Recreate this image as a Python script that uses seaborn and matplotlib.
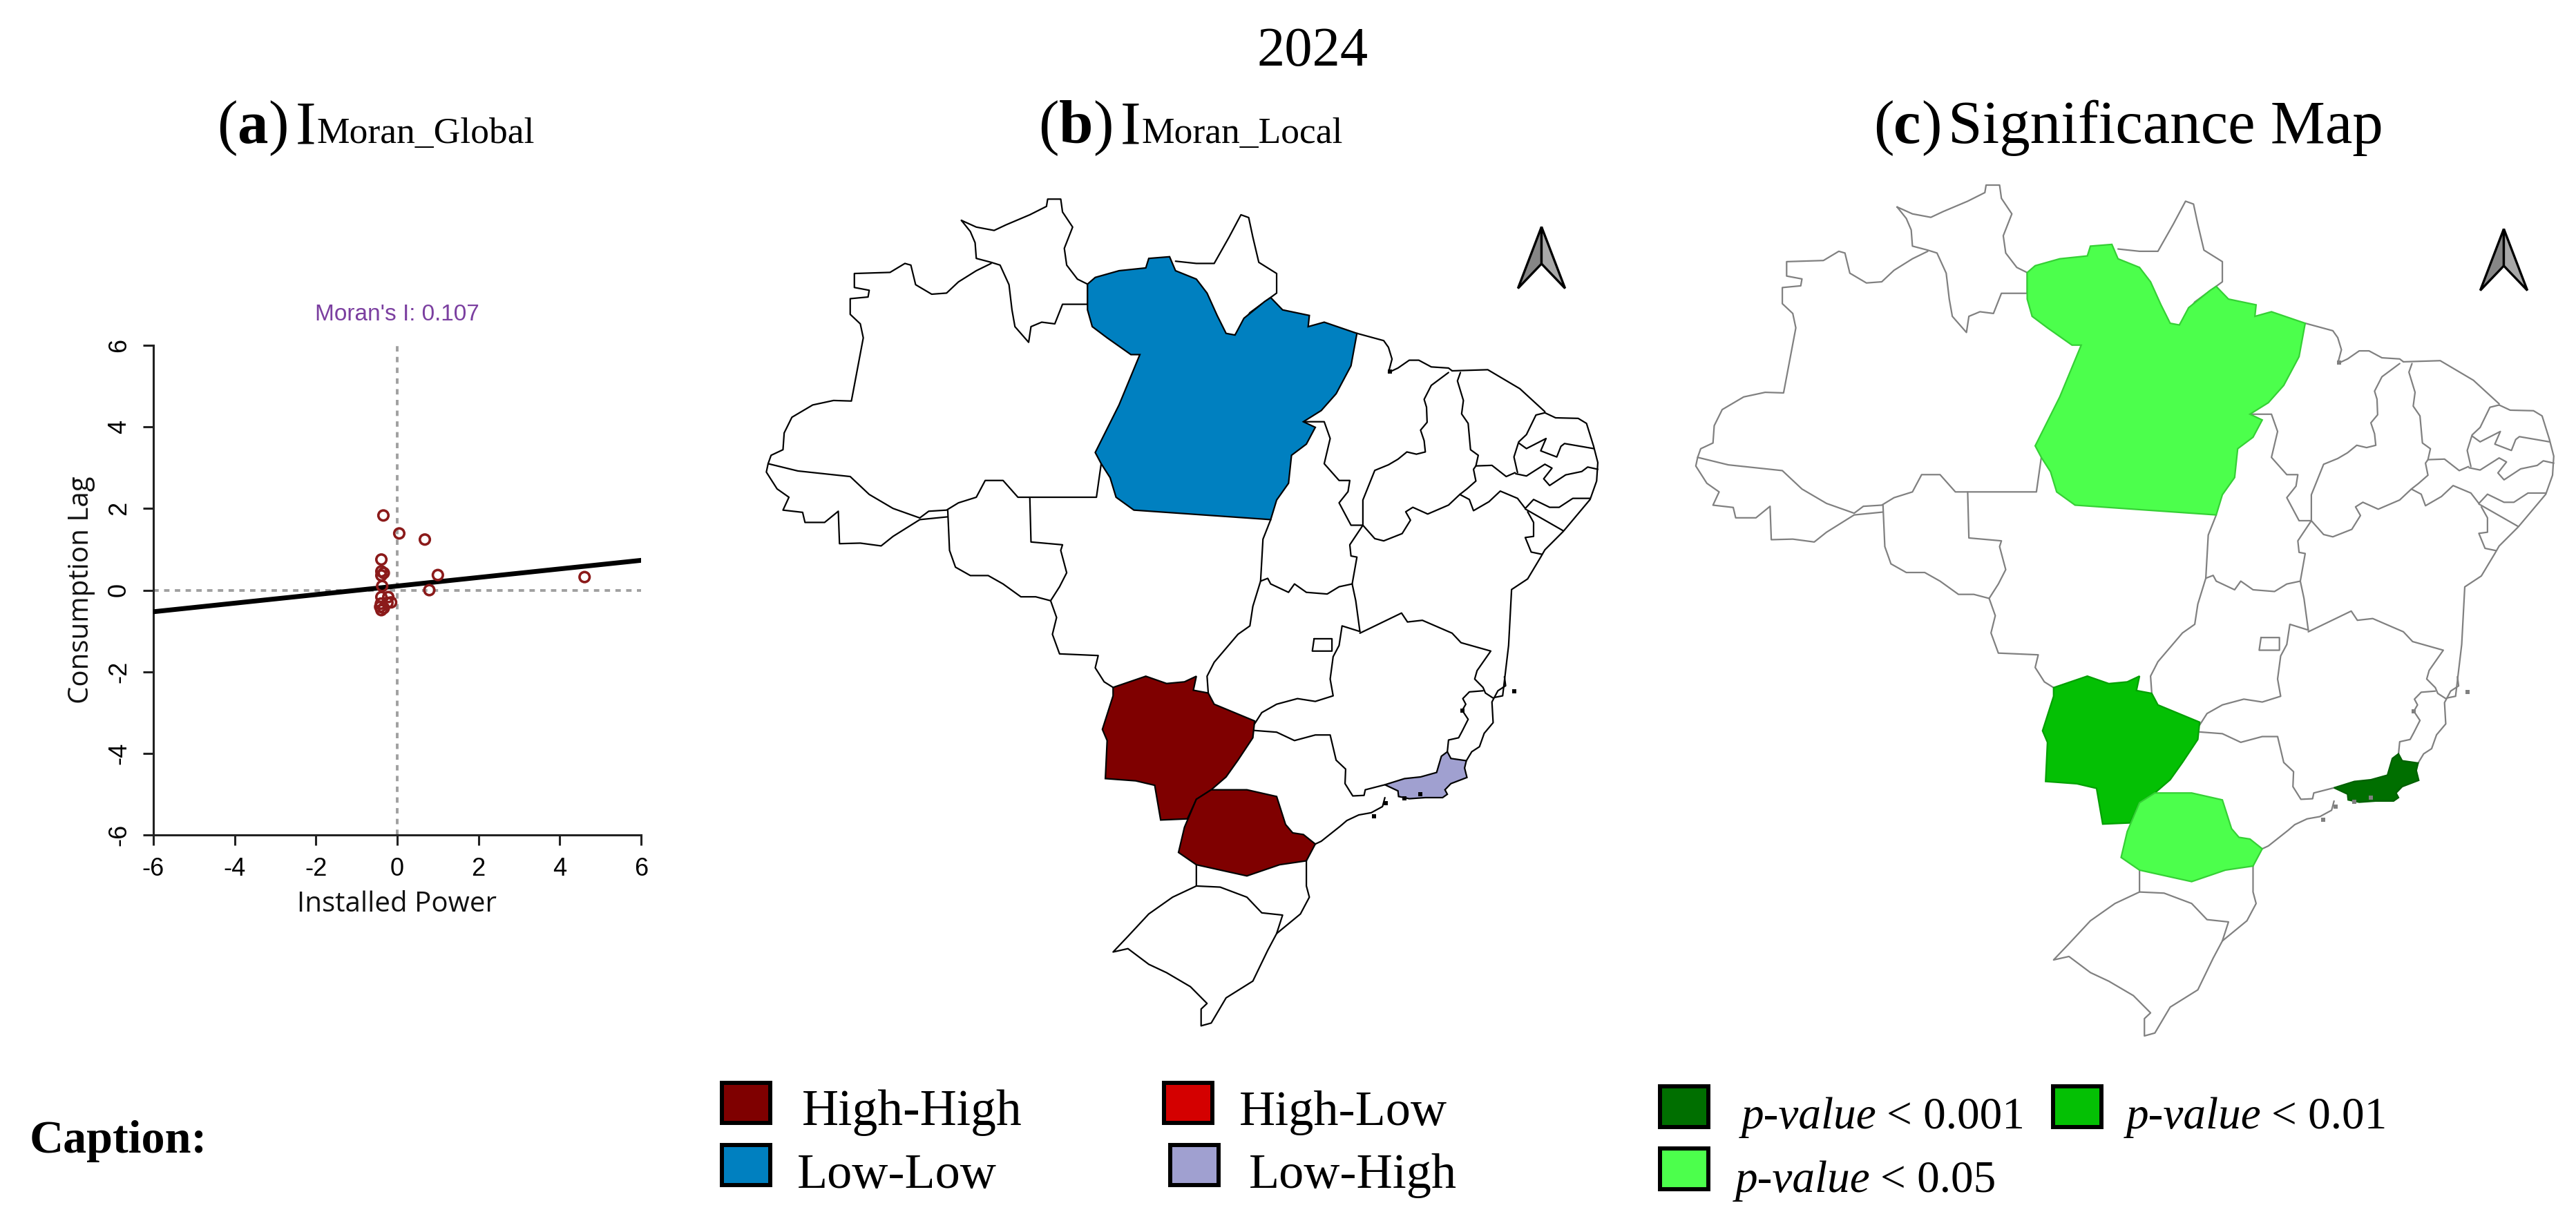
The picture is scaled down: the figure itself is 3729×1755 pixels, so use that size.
import matplotlib
matplotlib.use('Agg')
import matplotlib.pyplot as plt
import seaborn as sns
from matplotlib.patches import Polygon, Rectangle

# Moran scatter
power = [-0.34, 0.05, 0.68, -0.39, -0.39, -0.33, -0.39, 1.00, 4.61, 0.79, -0.37,
         -0.39, -0.22, -0.24, -0.40, -0.39, -0.42, -0.33, -0.15]
lag = [1.83, 1.39, 1.24, 0.75, 0.46, 0.42, 0.36, 0.37, 0.32, 0.00, 0.10,
       -0.17, -0.17, -0.31, -0.33, -0.49, -0.41, -0.44, -0.30]
fit_x = [-6, 6]
fit_y = [-0.53, 0.73]
ticks = [-6, -4, -2, 0, 2, 4, 6]

para = [(667, 224), (680, 212), (720, 200), (765, 195), (770, 178), (805, 175), (815, 200), (850, 215), (868, 240),
        (885, 280), (900, 312), (915, 315), (930, 285), (965, 255), (975, 248), (995, 270), (1040, 280), (1038, 300),
        (1065, 292), (1120, 312), (1110, 370), (1085, 420), (1060, 450), (1030, 470), (1050, 480), (1035, 510),
        (1010, 530), (1005, 580), (985, 610), (975, 645), (745, 628), (715, 605), (705, 570), (690, 545), (680, 525),
        (720, 440), (755, 350), (740, 350), (700, 320), (675, 300), (667, 270)]
mato_grosso_sul = [(710, 945), (765, 925), (800, 938), (830, 935), (850, 925), (845, 950), (870, 955), (880, 975),
                   (948, 1005), (945, 1035), (920, 1075), (900, 1105), (875, 1128), (850, 1145), (835, 1180),
                   (790, 1182), (780, 1120), (748, 1112), (697, 1108), (700, 1040), (692, 1020), (710, 960)]
parana = [(875, 1128), (935, 1128), (985, 1140), (1000, 1190), (1012, 1205), (1030, 1208), (1050, 1225), (1035, 1255),
          (990, 1262), (935, 1282), (905, 1275), (850, 1262), (820, 1240), (830, 1195), (850, 1145)]
rio = [(1272, 1060), (1278, 1072), (1304, 1076), (1301, 1089), (1305, 1106), (1278, 1117), (1268, 1128), (1272, 1136),
       (1264, 1142), (1235, 1142), (1208, 1144), (1190, 1140), (1189, 1130), (1167, 1119), (1200, 1108), (1227, 1105),
       (1254, 1097), (1262, 1068)]

borders = [
    # Roraima
    [(455, 110), (480, 122), (510, 128), (530, 118), (570, 100), (598, 85), (600, 72), (622, 72), (625, 95), (642, 122),
     (628, 160), (632, 190), (650, 215), (667, 224), (667, 260), (625, 260), (612, 295), (590, 292), (572, 300),
     (568, 328), (545, 300), (540, 270), (535, 225), (520, 190), (505, 185), (480, 178), (478, 150), (470, 130),
     (455, 110)],
    # Amazonas
    [(505, 187), (480, 200), (450, 220), (430, 240), (405, 242), (378, 225), (370, 190), (360, 187), (335, 203),
     (275, 205), (275, 230), (300, 235), (298, 247), (268, 250), (268, 278), (285, 295), (290, 320), (270, 433),
     (240, 432), (205, 440), (170, 462), (157, 490), (155, 520), (135, 530), (130, 545), (180, 558), (268, 568),
     (300, 600), (340, 625), (385, 642), (400, 630), (430, 628), (450, 615), (480, 605), (495, 575), (525, 575),
     (550, 605), (570, 605), (682, 605), (690, 545)],
    # Acre
    [(130, 545), (127, 560), (145, 590), (165, 605), (155, 628), (188, 632), (192, 650), (225, 650), (248, 630),
     (250, 688), (285, 687), (320, 692), (340, 675), (385, 645), (432, 640)],
    # Rondonia
    [(432, 628), (435, 700), (445, 730), (470, 745), (500, 745), (525, 760), (555, 783), (580, 783), (605, 790),
     (620, 765), (632, 740), (622, 700), (625, 690), (572, 685), (570, 605)],
    # Mato Grosso
    [(605, 790), (615, 820), (608, 850), (620, 885), (685, 888), (680, 910), (695, 935), (710, 945)],
    [(975, 645), (962, 680), (958, 755), (945, 800), (940, 835), (920, 850), (900, 875), (880, 900), (868, 925),
     (870, 955)],
    # Amapa
    [(815, 183), (850, 187), (880, 187), (905, 140), (925, 100), (938, 105), (945, 140), (955, 185), (985, 205),
     (985, 240), (940, 275), (925, 300), (915, 315)],
    # Tocantins
    [(1030, 470), (1065, 470), (1075, 500), (1065, 545), (1090, 575), (1108, 575), (1105, 595), (1090, 615), (1110, 655),
     (1130, 655), (1108, 690), (1110, 710), (1120, 712), (1112, 760), (1118, 790), (1125, 845)],
    [(958, 755), (970, 750), (975, 760), (1005, 775), (1015, 760), (1035, 775), (1070, 778), (1090, 765), (1112, 760)],
    # Maranhao
    [(1120, 312), (1165, 325), (1173, 337), (1179, 358), (1173, 382), (1189, 374), (1208, 360), (1224, 360), (1245, 372),
     (1274, 374), (1280, 379)],
    [(1274, 382), (1245, 405), (1233, 430), (1237, 444), (1238, 471), (1227, 485), (1233, 504), (1235, 524), (1220, 528),
     (1204, 524), (1189, 537), (1173, 547), (1150, 557), (1130, 610), (1130, 655)],
    # Piaui
    [(1294, 382), (1289, 397), (1299, 432), (1296, 456), (1307, 473), (1311, 520), (1324, 530), (1320, 549), (1316, 555),
     (1320, 576), (1305, 590), (1293, 600), (1274, 619), (1239, 635), (1214, 623), (1202, 631), (1210, 646), (1196, 670),
     (1165, 683), (1150, 679), (1130, 655)],
    # Ceara
    [(1280, 379), (1340, 377), (1394, 411), (1436, 452)],
    [(1436, 454), (1421, 458), (1405, 493), (1392, 506), (1384, 533), (1390, 561)],
    [(1320, 549), (1347, 548), (1371, 568), (1386, 561)],
    # North east coast
    [(1436, 454), (1454, 463), (1492, 464), (1506, 473), (1518, 514), (1525, 543), (1523, 576), (1512, 609), (1467, 666),
     (1436, 699), (1429, 712), (1407, 751), (1380, 770), (1375, 870), (1365, 960), (1351, 963)],
    # Rio Grande do Norte, Paraiba, Pernambuco, Alagoas, Sergipe
    [(1392, 508), (1405, 518), (1438, 500), (1429, 522), (1456, 533), (1463, 514), (1469, 509), (1518, 518)],
    [(1387, 563), (1405, 567), (1436, 546), (1448, 553), (1434, 572), (1444, 584), (1471, 565), (1498, 559), (1508, 551),
     (1525, 555)],
    [(1293, 600), (1309, 609), (1316, 629), (1342, 613), (1361, 594), (1390, 607), (1403, 625), (1417, 609), (1444, 623),
     (1460, 623), (1483, 607), (1512, 607)],
    [(1403, 626), (1467, 665)],
    [(1407, 631), (1417, 650), (1417, 675), (1403, 677), (1413, 703), (1431, 707)],
    # Bahia and Goias
    [(1125, 848), (1160, 830), (1195, 812), (1205, 828), (1230, 825), (1280, 848), (1295, 865), (1345, 880), (1322, 915),
     (1318, 930), (1332, 945), (1336, 955), (1349, 964)],
    [(1125, 845), (1095, 835), (1090, 870), (1080, 890), (1075, 930), (1080, 960), (1050, 970), (1020, 965), (985, 975),
     (960, 990), (948, 1010)],
    [(1048, 858), (1078, 858), (1078, 880), (1045, 880), (1048, 858)],
    # Minas Gerais and Espirito Santo
    [(948, 1022), (985, 1025), (1015, 1040), (1050, 1030), (1075, 1030), (1085, 1075), (1092, 1082), (1101, 1091),
     (1100, 1117), (1113, 1139), (1132, 1138), (1134, 1128), (1167, 1119)],
    [(1332, 951), (1309, 953), (1298, 965), (1303, 975), (1297, 986), (1307, 1002), (1297, 1023), (1291, 1035),
     (1274, 1039), (1272, 1060)],
    [(1304, 1076), (1313, 1060), (1326, 1051), (1334, 1027), (1349, 1008), (1347, 971), (1351, 963), (1357, 951),
     (1370, 942), (1368, 926)],
    # Sao Paulo coast
    [(1167, 1142), (1163, 1158), (1144, 1169), (1123, 1173), (1103, 1183), (1092, 1193), (1060, 1220), (1050, 1225)],
    # Santa Catarina
    [(850, 1262), (850, 1300), (890, 1302), (935, 1320), (960, 1348), (995, 1352), (985, 1385)],
    [(1035, 1255), (1035, 1300), (1040, 1320), (1025, 1350), (985, 1385)],
    # Rio Grande do Sul
    [(850, 1300), (810, 1320), (770, 1350), (735, 1390), (710, 1418), (735, 1412), (770, 1440), (800, 1455), (840, 1480),
     (868, 1510), (858, 1520), (858, 1550), (875, 1545), (900, 1500), (945, 1470), (970, 1415), (985, 1385)],
]

# Small islands and thick bits of coast
islands_x = [1175, 1227, 1169, 1149, 1297, 1200, 1385]
islands_y = [380, 1136, 1152, 1175, 986, 1143, 952]

# North arrow, unit box
arrow_left = [(0.5, 1.0), (0.0, 0.0), (0.5, 0.4)]
arrow_right = [(0.5, 1.0), (1.0, 0.0), (0.5, 0.4)]

lisa_colors = {'High-High': '#7f0000', 'High-Low': '#d40000', 'Low-Low': '#0080c0', 'Low-High': '#a0a0d0'}
sig_colors = {'p001': '#006f00', 'p01': '#04c004', 'p05': '#4cff4c'}

W, H = 3730, 1755
sns.set_theme(style='white')
plt.rcParams['font.family'] = ['Liberation Serif', 'DejaVu Serif']
plt.rcParams['axes.unicode_minus'] = False

fig = plt.figure(figsize=(W / 100, H / 100), dpi=100, facecolor='white')
renderer = fig.canvas.get_renderer()


def box(left, top, right, bottom):
    return [left / W, 1 - bottom / H, (right - left) / W, (bottom - top) / H]


def put_runs(x, y, runs):
    # Write pieces of text one after the other on the same baseline
    for text, size, weight, style, gap in runs:
        t = fig.text(x / W, 1 - y / H, text, fontsize=size, fontweight=weight, fontstyle=style,
                     ha='left', va='baseline', color='black')
        x = t.get_window_extent(renderer).x1 + gap


def swatch(left, top, right, bottom, color):
    fig.add_artist(Rectangle((left / W, 1 - bottom / H), (right - left) / W, (bottom - top) / H,
                             transform=fig.transFigure, facecolor=color, edgecolor='black', linewidth=4.3))


def draw_map(pos, fills, line_color, line_width):
    ax = fig.add_axes(box(*pos))
    ax.set_xlim(0, 1568)
    ax.set_ylim(1568, 0)
    ax.axis('off')
    for outline, color, edge in fills:
        ax.add_patch(Polygon(outline, closed=True, facecolor=color, edgecolor=edge, linewidth=line_width, zorder=3))
    for line in borders:
        ax.plot([p[0] for p in line], [p[1] for p in line], color=line_color, linewidth=line_width, zorder=2)
    ax.scatter(islands_x, islands_y, s=22, marker='s', color=line_color, linewidths=0, zorder=4)
    return ax


def draw_arrow(pos):
    ax = fig.add_axes(box(*pos))
    ax.set_xlim(-0.05, 1.05)
    ax.set_ylim(-0.05, 1.05)
    ax.axis('off')
    ax.add_patch(Polygon(arrow_left, closed=True, facecolor='#868686', edgecolor='black', linewidth=2.4))
    ax.add_patch(Polygon(arrow_right, closed=True, facecolor='#a8a8a8', edgecolor='black', linewidth=2.4))


# Panel (a)
ax = fig.add_axes(box(222, 500, 928, 1209))
sns.lineplot(x=fit_x, y=fit_y, ax=ax, color='black', linewidth=5, estimator=None, zorder=3)
sns.scatterplot(x=power, y=lag, ax=ax, s=110, zorder=4)
pts = ax.collections[-1]
pts.set_facecolor('none')
pts.set_edgecolor('#8b1a1a')
pts.set_linewidth(2.6)
ax.axhline(0, color='#a0a0a0', linewidth=2.8, linestyle=(0, (2, 2)), zorder=1)
ax.axvline(0, color='#a0a0a0', linewidth=2.8, linestyle=(0, (2, 2)), zorder=1)
ax.set_xlim(-6, 6)
ax.set_ylim(-6, 6)
ax.set_xticks(ticks)
ax.set_yticks(ticks)
ax.patch.set_alpha(0)
sns.despine(ax=ax)
for side in ['left', 'bottom']:
    ax.spines[side].set_color('#222222')
    ax.spines[side].set_linewidth(2.2)
ax.tick_params(axis='both', direction='out', length=11, width=2.2, color='#222222', left=True, bottom=True,
               labelsize=26, labelcolor='black', pad=12)
for lab in ax.get_xticklabels() + ax.get_yticklabels():
    lab.set_fontfamily('Liberation Sans')
for lab in ax.get_yticklabels():
    lab.set_rotation(90)
    lab.set_va('center')
ax.set_xlabel('Installed Power', fontsize=29, fontfamily='Open Sans', color='#111111', labelpad=10)
ax.set_ylabel('Consumption Lag', fontsize=29, fontfamily='Open Sans', color='#111111', labelpad=12)
ax.set_title("Moran's I: 0.107", fontsize=24, fontfamily='Liberation Sans', color='#7b3fa0', pad=26)

# Panels (b) and (c)
draw_map((1000, 230, 2350, 1500), [(para, lisa_colors['Low-Low'], 'black'),
                                   (mato_grosso_sul, lisa_colors['High-High'], 'black'),
                                   (parana, lisa_colors['High-High'], 'black'),
                                   (rio, lisa_colors['Low-High'], 'black')], 'black', 1.6)
draw_arrow((2194, 324, 2269, 422))
draw_map((2342, 208, 3735, 1515), [(para, sig_colors['p05'], '#35d035'),
                                   (mato_grosso_sul, sig_colors['p01'], '#03a003'),
                                   (parana, sig_colors['p05'], '#35d035'),
                                   (rio, sig_colors['p001'], '#006000')], '#808080', 1.6)
draw_arrow((3587, 327, 3662, 425))

# Titles
fig.text(1900 / W, 1 - 95 / H, '2024', fontsize=58, ha='center', va='baseline', color='black')
put_runs(314, 207, [('(', 64, 'normal', 'normal', 0), ('a', 64, 'bold', 'normal', 0), (')', 64, 'normal', 'normal', 10),
                    ('I', 64, 'normal', 'normal', 1), ('Moran_Global', 38.5, 'normal', 'normal', 0)])
put_runs(1503, 207, [('(', 64, 'normal', 'normal', 0), ('b', 64, 'bold', 'normal', 0), (')', 64, 'normal', 'normal', 10),
                     ('I', 64, 'normal', 'normal', 1), ('Moran_Local', 38.5, 'normal', 'normal', 0)])
put_runs(2712, 207, [('(', 64, 'normal', 'normal', 0), ('c', 64, 'bold', 'normal', 0), (')', 64, 'normal', 'normal', 10),
                     ('Significance Map', 64, 'normal', 'normal', 0)])

# Legend
fig.text(43 / W, 1 - 1669 / H, 'Caption:', fontsize=49, fontweight='bold', ha='left', va='baseline', color='black')
swatch(1045, 1568, 1115, 1626, lisa_colors['High-High'])
swatch(1685, 1568, 1755, 1626, lisa_colors['High-Low'])
swatch(1045, 1658, 1115, 1716, lisa_colors['Low-Low'])
swatch(1694, 1658, 1764, 1716, lisa_colors['Low-High'])
swatch(2403, 1573, 2473, 1632, sig_colors['p001'])
swatch(2972, 1573, 3042, 1632, sig_colors['p01'])
swatch(2403, 1663, 2473, 1722, sig_colors['p05'])
put_runs(1161, 1629, [('High-High', 53, 'normal', 'normal', 0)])
put_runs(1794, 1629, [('High-Low', 52, 'normal', 'normal', 0)])
put_runs(1154, 1720, [('Low-Low', 52, 'normal', 'normal', 0)])
put_runs(1808, 1720, [('Low-High', 52, 'normal', 'normal', 0)])
put_runs(2521, 1634, [('p-value', 47, 'normal', 'italic', 14), ('< 0.001', 47, 'normal', 'normal', 0)])
put_runs(3078, 1634, [('p-value', 47, 'normal', 'italic', 14), ('< 0.01', 47, 'normal', 'normal', 0)])
put_runs(2512, 1726, [('p-value', 47, 'normal', 'italic', 14), ('< 0.05', 47, 'normal', 'normal', 0)])

fig.savefig('out.png', dpi=100, facecolor='white')
